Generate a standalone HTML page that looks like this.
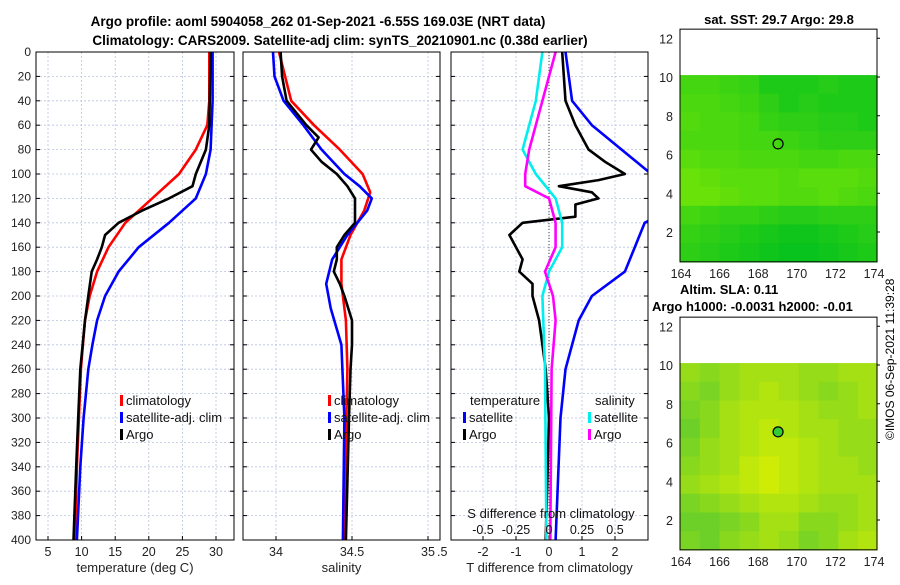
<!DOCTYPE html>
<html><head><meta charset="utf-8"><style>
body{margin:0;background:#fff;}
svg{font-family:"Liberation Sans","DejaVu Sans",sans-serif;}
</style></head><body>
<svg id="c" width="900" height="580" viewBox="0 0 900 580" xmlns="http://www.w3.org/2000/svg">
<rect width="900" height="580" fill="#fff"/>
<text x="318" y="26" font-size="13.5" font-weight="bold" text-anchor="middle">Argo profile: aoml 5904058_262 01-Sep-2021 -6.55S 169.03E (NRT data)</text>
<text x="340" y="45" font-size="13.5" font-weight="bold" text-anchor="middle">Climatology: CARS2009. Satellite-adj clim: synTS_20210901.nc (0.38d earlier)</text>
<g id="g"></g>
<text transform="translate(894,440) rotate(-90)" font-size="12">©IMOS 06-Sep-2021 11:39:28</text>
</svg>
<script>
// ---- data ----
const depthTicks=[0,20,40,60,80,100,120,140,160,180,200,220,240,260,280,300,320,340,360,380,400];
const tempTicks=[5,10,15,20,25,30];
const salTicks=[34,34.5,35];
const tdiffTicks=[-2,-1,0,1,2];
const sdiffTicks=[-0.5,-0.25,0,0.25,0.5];
const tClimDepth=[0,20,40,60,80,100,120,140,160,180,200,220,240,260,300,340,400];
const tClimVal=[29,29,29,28.7,27,24.5,20.5,16.5,14,12.3,11.2,10.5,10.2,9.9,9.6,9.3,9];
const tSatDepth=[0,40,80,100,120,140,160,180,200,220,240,260,300,340,400];
const tSatVal=[29.5,29.5,29.2,28.5,27,23,18.5,15.5,13.5,12.3,11.6,11,10.3,9.8,9.3];
const tArgoDepth=[0,60,80,100,110,120,130,140,150,160,170,180,200,220,260,300,340,400];
const tArgoVal=[29.2,29,28.5,27,26.5,23,19,15.5,13.5,13,12.3,11.5,11,10.5,9.8,9.5,9.2,8.8];
const sClimDepth=[0,40,60,80,100,115,130,150,170,190,220,260,320,400];
const sClimVal=[34.02,34.1,34.25,34.42,34.57,34.62,34.58,34.49,34.43,34.43,34.46,34.47,34.46,34.45];
const sSatDepth=[0,20,40,60,80,100,110,120,130,150,170,190,210,240,300,400];
const sSatVal=[33.98,33.99,34.05,34.18,34.3,34.45,34.55,34.63,34.6,34.47,34.37,34.33,34.36,34.43,34.45,34.44];
const sArgoDepth=[0,20,40,60,70,80,90,100,110,120,140,150,160,170,180,190,200,220,240,260,300,400];
const sArgoVal=[34.03,34.04,34.07,34.2,34.28,34.23,34.3,34.4,34.47,34.52,34.52,34.45,34.4,34.4,34.38,34.42,34.45,34.5,34.5,34.49,34.48,34.46];
const dTSatDepth=[0,40,60,80,100,130,140,160,180,200,220,260,300,400];
const dTSatVal=[0.5,0.7,1.3,2.2,3.1,3.6,2.9,2.6,2.3,1.3,0.9,0.5,0.35,0.2];
const dTArgoDepth=[0,40,60,80,90,100,105,110,115,120,125,135,140,150,160,170,180,190,200,220,260,300,400];
const dTArgoVal=[0.4,0.5,0.8,1.2,1.7,2.3,1.5,0.3,1.3,1.5,0.8,0.8,-0.8,-1.2,-1.0,-0.8,-0.9,-0.5,-0.5,-0.3,-0.1,0,-0.1];
const dSSatDepth=[0,40,60,80,100,120,140,160,180,200,260,400];
const dSSatVal=[-0.05,-0.1,-0.15,-0.2,-0.1,0.05,0.1,0.1,0,-0.05,-0.03,-0.02];
const dSArgoDepth=[0,20,40,60,80,100,110,120,140,160,180,200,220,260,400];
const dSArgoVal=[0.05,0,-0.05,-0.1,-0.15,-0.18,-0.18,0,0.05,0.05,-0.03,0.03,0.05,0.02,0.01];
const latTicks=[2,4,6,8,10,12];
const lonTicks=[164,166,168,170,172,174];
const sstGrid=[
[.45,.45,.4,.35,.2,.2,.2,.25,.2,.2],
[.5,.5,.45,.4,.3,.2,.25,.2,.2,.2],
[.55,.5,.5,.45,.35,.3,.3,.25,.25,.2],
[.5,.5,.5,.45,.45,.4,.35,.3,.3,.3],
[.6,.55,.55,.5,.5,.5,.45,.45,.5,.5],
[.7,.65,.6,.6,.6,.55,.6,.6,.6,.55],
[.7,.7,.65,.6,.6,.55,.55,.6,.55,.5],
[.45,.4,.35,.35,.3,.25,.25,.3,.3,.3],
[.35,.3,.25,.2,.15,.1,.1,.15,.2,.25],
[.3,.25,.2,.15,.1,.05,.05,.1,.15,.2]];
const slaGrid=[
[.5,.4,.5,.6,.6,.6,.5,.5,.6,.6],
[.4,.3,.5,.6,.7,.6,.5,.4,.5,.6],
[.3,.4,.6,.7,.7,.7,.6,.5,.5,.6],
[.2,.4,.6,.7,.8,.7,.6,.6,.5,.5],
[.3,.5,.6,.7,.8,.8,.7,.6,.5,.5],
[.4,.5,.6,.8,.9,.8,.7,.6,.6,.5],
[.5,.6,.7,.8,.9,.8,.7,.6,.6,.6],
[.3,.4,.5,.6,.7,.7,.6,.5,.5,.6],
[.2,.2,.3,.4,.6,.6,.4,.4,.5,.6],
[.3,.2,.4,.5,.6,.5,.3,.4,.6,.7]];
const argoLon=[169.03];
const argoLat=[6.55];

// ---- drawing ----
const NS='http://www.w3.org/2000/svg';
const G=document.getElementById('g');
function el(t,a,p){const e=document.createElementNS(NS,t);for(const k in a)e.setAttribute(k,a[k]);(p||G).appendChild(e);return e;}
const Y0=52,Y1=540;
const yD=d=>Y0+(d/400)*(Y1-Y0);
function lin(d0,d1,r0,r1){return v=>r0+(v-d0)/(d1-d0)*(r1-r0);}

function panel(name,x0,x1,xs,ticks,xlabel,showY){
  const g=el('g',{});
  
  
  depthTicks.forEach(d=>{
    const l=el('line',{x1:x0,x2:x1,y1:yD(d),y2:yD(d),stroke:'#b8c4e0','stroke-width':0.8,'stroke-dasharray':'2,2'},g);
    
    if(showY){const t=el('text',{x:x0-5,y:yD(d)+4,'font-size':12,'text-anchor':'end',fill:'#222'},g);t.textContent=d;
      }
    el('line',{x1:x0,x2:x0+4,y1:yD(d),y2:yD(d),stroke:'#000'},g);
    el('line',{x1:x1,x2:x1-4,y1:yD(d),y2:yD(d),stroke:'#000'},g);
  });
  ticks.forEach(v=>{const x=xs(v);
    if(x>=x0&&x<=x1){const l=el('line',{x1:x,x2:x,y1:Y0,y2:Y1,stroke:'#b8c4e0','stroke-width':0.8,'stroke-dasharray':'2,2'},g);
      
      el('line',{x1:x,x2:x,y1:Y1,y2:Y1-4,stroke:'#000'},g);}
    const t=el('text',{x:x,y:556,'font-size':12.5,'text-anchor':'middle',fill:'#222'},g);t.textContent=v;
    
  });
  const xl=el('text',{x:(x0+x1)/2,y:572,'font-size':13,'text-anchor':'middle',fill:'#222'},g);xl.textContent=xlabel;
  
  return g;
}
function series(g,name,depths,vals,xs,color,x0,x1){
  const pts=depths.map((d,i)=>xs(vals[i]).toFixed(1)+','+yD(d).toFixed(1)).join(' ');
  const id='clip'+name;
  const cp=el('clipPath',{id:id},g);el('rect',{x:x0,y:Y0,width:x1-x0,height:Y1-Y0},cp);
  const p=el('polyline',{points:pts,fill:'none',stroke:color,'stroke-width':2.6,'stroke-linejoin':'round','clip-path':'url(#'+id+')'},g);
  
  
}
function frame(g,x0,x1){const r=el('rect',{x:x0,y:Y0,width:x1-x0,height:Y1-Y0,fill:'none',stroke:'#000','stroke-width':1},g);
  }
function legendEntry(g,x,y,color,label){
  const e=el('g',{},g);
  
  
  el('rect',{x:x,y:y-10,width:3,height:11,fill:color},e);
  const t=el('text',{x:x+6,y:y,'font-size':13,fill:'#111'},e);t.textContent=label;
}

// Panel 1
const xT=lin(5,30,48,216);
const g1=panel('temperature-panel',36,234,xT,tempTicks,'temperature (deg C)',true);
series(g1,'temp-climatology',tClimDepth,tClimVal,xT,'#f00',36,234);
series(g1,'temp-satellite-clim',tSatDepth,tSatVal,xT,'#00f',36,234);
series(g1,'temp-argo',tArgoDepth,tArgoVal,xT,'#000',36,234);
frame(g1,36,234);
legendEntry(g1,120,405,'#f00','climatology');
legendEntry(g1,120,422,'#00f','satellite-adj. clim');
legendEntry(g1,120,439,'#000','Argo');

// Panel 2
const xS=lin(34,34.5,276,352);
const g2=panel('salinity-panel',243,440,xS,salTicks,'salinity',false);
series(g2,'sal-climatology',sClimDepth,sClimVal,xS,'#f00',243,440);
series(g2,'sal-satellite-clim',sSatDepth,sSatVal,xS,'#00f',243,440);
series(g2,'sal-argo',sArgoDepth,sArgoVal,xS,'#000',243,440);
frame(g2,243,440);
legendEntry(g2,328,405,'#f00','climatology');
legendEntry(g2,328,422,'#00f','satellite-adj. clim');
legendEntry(g2,328,439,'#000','Argo');

// Panel 3
const xdT=lin(0,1,549,582);
const xdS=lin(0,0.25,549,582);
const g3=panel('difference-panel',451,648,xdT,tdiffTicks,'T difference from climatology',false);
let t=el('text',{x:437,y:556,'font-size':12.5,fill:'#222'},g3);t.textContent='.5';

const zl=el('line',{x1:549,x2:549,y1:Y0,y2:Y1,stroke:'#444','stroke-dasharray':'1,2'},g3);

series(g3,'dt-satellite',dTSatDepth,dTSatVal,xdT,'#00f',451,648);
series(g3,'dt-argo',dTArgoDepth,dTArgoVal,xdT,'#000',451,648);
series(g3,'ds-satellite',dSSatDepth,dSSatVal,xdS,'#0ee',451,648);
series(g3,'ds-argo',dSArgoDepth,dSArgoVal,xdS,'#f0f',451,648);
frame(g3,451,648);
t=el('text',{x:470,y:405,'font-size':13,fill:'#111'},g3);t.textContent='temperature';
legendEntry(g3,463,422,'#00f','satellite');
legendEntry(g3,463,439,'#000','Argo');
t=el('text',{x:595,y:405,'font-size':13,fill:'#111'},g3);t.textContent='salinity';
legendEntry(g3,588,422,'#0ee','satellite');
legendEntry(g3,588,439,'#f0f','Argo');
t=el('text',{x:551,y:518,'font-size':13,'text-anchor':'middle',fill:'#111'},g3);t.textContent='S difference from climatology';

sdiffTicks.forEach(v=>{const s=el('text',{x:xdS(v),y:534,'font-size':12.5,'text-anchor':'middle',fill:'#111'},g3);s.textContent=v;
  });

// Maps
function map(name,top,grid,c0,c1,circleFill){
  const g=el('g',{});
  
  
  const px=lin(164,174,681,874);
  const py=lin(10,2,top+48,top+203);
  const x0=680,x1=877,yT=py(12.47),yB=py(0.46);
  const rows=grid.length,cols=grid[0].length;
  const latTop=10.1,latBot=0.46,dlat=(latTop-latBot)/rows,dlon=(174.2-163.95)/cols;
  grid.forEach((row,i)=>row.forEach((v,j)=>{
    const r=Math.round(c0[0]+(c1[0]-c0[0])*v),gg=Math.round(c0[1]+(c1[1]-c0[1])*v),b=Math.round(c0[2]+(c1[2]-c0[2])*v);
    const xa=Math.max(x0,px(163.95+j*dlon)),xb=Math.min(x1,px(163.95+(j+1)*dlon));
    const c=el('rect',{x:xa,y:py(latTop-i*dlat),width:xb-xa+0.6,height:py(latTop-(i+1)*dlat)-py(latTop-i*dlat)+0.6,fill:`rgb(${r},${gg},${b})`},g);
    
    
  }));
  const f=el('rect',{x:x0,y:yT,width:x1-x0,height:yB-yT,fill:'none',stroke:'#000'},g);
  
  latTicks.forEach(v=>{const s=el('text',{x:673,y:py(v)+5,'font-size':12.5,'text-anchor':'end',fill:'#222'},g);s.textContent=v;
    
    el('line',{x1:x1,x2:x1+3,y1:py(v),y2:py(v),stroke:'#000'},g);});
  lonTicks.forEach(v=>{const s=el('text',{x:px(v),y:yB+16,'font-size':12.5,'text-anchor':'middle',fill:'#222'},g);s.textContent=v;
    });
  const c=el('circle',{cx:px(argoLon[0]),cy:py(argoLat[0]),r:5,fill:circleFill,stroke:'#000','stroke-width':1.2},g);
  
  return g;
}
map('sst-map',29,sstGrid,[0,192,30],[150,240,0],"none");
map('sla-map',317,slaGrid,[80,200,50],[220,240,0],"#3c3");
t=el('text',{x:779,y:24,'font-size':13,'font-weight':'bold','text-anchor':'middle'});t.textContent='sat. SST: 29.7 Argo: 29.8';

t=el('text',{x:680,y:294,'font-size':13,'font-weight':'bold'});t.textContent='Altim. SLA: 0.11';

t=el('text',{x:652,y:311,'font-size':13,'font-weight':'bold'});t.textContent='Argo h1000: -0.0031 h2000: -0.01';

</script>
</body></html>
